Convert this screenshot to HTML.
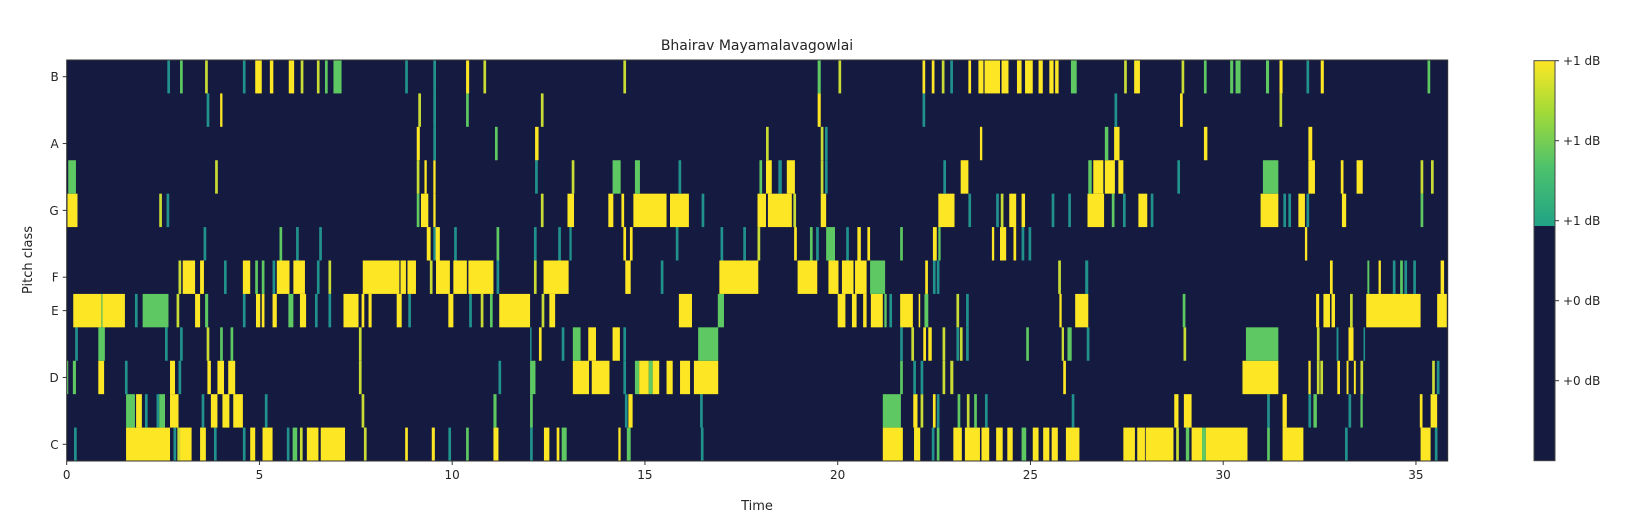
<!DOCTYPE html>
<html><head><meta charset="utf-8"><style>
body{margin:0;background:#fff;}
svg text{font-family:"DejaVu Sans","Liberation Sans",sans-serif;fill:#262626;}
</style></head><body>
<svg id="chart" width="1632" height="522" viewBox="0 0 1632 522" xmlns="http://www.w3.org/2000/svg">
<text x="757" y="50" font-size="14" text-anchor="middle">Bhairav Mayamalavagowlai</text>
<rect x="66.7" y="60" width="1381" height="401" fill="#141a40"/>
<g id="cells"></g>
<rect x="66.7" y="60" width="1381" height="401" fill="none" stroke="#333" stroke-width="1"/>
<g id="xaxis"></g>
<g id="yaxis"></g>
<text x="757" y="510" font-size="13" text-anchor="middle">Time</text>
<text x="0" y="0" font-size="13" text-anchor="middle" transform="translate(32,260) rotate(-90)">Pitch class</text>
<defs><linearGradient id="cbg" x1="0" y1="1" x2="0" y2="0">
<stop offset="0" stop-color="#21a386"/><stop offset="0.35" stop-color="#4cc26c"/><stop offset="0.7" stop-color="#a5db36"/><stop offset="1" stop-color="#fde725"/></linearGradient></defs>
<g>
<rect x="1534" y="226" width="21" height="234.7" fill="#141a40"/>
<rect x="1534" y="60.7" width="21" height="165.3" fill="url(#cbg)"/>
<rect x="1534" y="60.7" width="21" height="400" fill="none" stroke="#444" stroke-width="1"/>
<g id="cbticks"></g>
</g>
</svg>
<script>
const Y = 1, O = 0.85, G = 0.55, T = 0.2;
const pitchLabels = ["C","C#","D","D#","E","F","F#","G","G#","A","A#","B"];
const xTicks = [0,5,10,15,20,25,30,35];
const cbLabels = ["+1 dB","+1 dB","+1 dB","+0 dB","+0 dB"];
const cbLevels = [1.0, 0.8, 0.6, 0.4, 0.2];
const chromaC = [[0.19,T],[1.54,2.68,Y],[2.77,T],[2.87,O],[2.94,3.24,Y],[3.46,3.61,Y],[3.82,T],[4.57,T],[4.76,4.89,Y],[5.08,5.34,Y],[5.71,T],[5.86,5.98,G],[6.05,O],[6.23,6.53,Y],[6.59,7.22,Y],[7.71,O],[8.78,Y],[9.47,9.55,Y],[9.90,T],[10.36,G],[11.07,11.20,Y],[12.02,T],[12.38,12.52,Y],[12.71,12.78,Y],[12.84,12.97,G],[14.31,14.37,Y],[14.53,14.63,G],[16.45,T],[21.17,21.69,Y],[21.98,22.14,Y],[22.44,T],[22.57,G],[23.00,23.22,Y],[23.30,23.69,Y],[23.73,23.93,Y],[24.11,24.28,Y],[24.40,24.54,Y],[24.77,24.89,G],[25.06,25.21,Y],[25.33,25.49,Y],[25.55,25.71,Y],[25.92,26.27,Y],[27.41,27.71,Y],[27.77,27.97,Y],[27.99,28.71,Y],[28.78,O],[29.03,29.12,G],[29.18,29.45,Y],[29.45,29.55,G],[29.55,30.63,Y],[31.14,31.21,G],[31.54,32.08,Y],[33.16,T],[35.12,35.38,Y],[35.49,T]];
const chromaCs = [[1.54,1.77,G],[1.80,1.95,Y],[2.03,T],[2.33,T],[2.40,2.55,G],[2.68,2.90,Y],[3.50,T],[3.74,3.91,Y],[4.04,4.22,Y],[4.32,4.57,Y],[5.14,T],[7.65,O],[11.07,11.15,G],[12.02,12.09,G],[14.48,T],[14.57,14.68,Y],[16.43,T],[21.17,21.64,G],[21.96,22.07,Y],[22.15,O],[22.47,Y],[22.57,22.64,T],[23.11,G],[23.35,O],[23.54,G],[23.82,T],[26.07,T],[28.73,28.84,Y],[28.98,29.18,Y],[31.14,T],[31.54,31.65,Y],[32.21,T],[32.34,32.43,G],[33.25,T],[33.56,33.62,G],[35.10,35.17,Y],[35.38,35.55,Y]];
const chromaD = [[0.0,0.04,G],[0.16,0.24,G],[0.82,0.97,Y],[1.51,T],[2.68,2.81,Y],[2.90,T],[3.65,3.74,Y],[3.91,4.08,Y],[4.19,4.37,Y],[7.58,O],[11.20,T],[12.02,12.16,G],[13.13,13.55,Y],[13.62,14.08,Y],[14.44,T],[14.74,14.85,G],[14.85,15.10,Y],[15.10,15.20,G],[15.20,15.37,Y],[15.56,15.72,Y],[15.91,16.17,Y],[16.27,16.90,Y],[21.62,21.69,G],[21.96,T],[22.15,T],[22.72,O],[22.92,23.00,O],[25.85,25.92,Y],[30.50,31.43,Y],[32.21,32.27,Y],[32.43,O],[32.52,O],[32.96,33.03,Y],[33.20,33.25,Y],[33.39,33.44,Y],[33.56,O],[35.42,O],[35.54,T]];
const chromaDs = [[0.22,T],[0.82,0.99,G],[2.55,T],[2.94,T],[3.63,O],[3.98,G],[4.25,G],[7.58,O],[12.02,12.06,T],[12.25,12.32,Y],[12.84,T],[13.13,13.33,G],[13.53,13.73,Y],[14.16,14.35,Y],[14.44,T],[16.38,16.90,G],[21.62,T],[21.91,O],[22.22,22.29,Y],[22.35,22.44,Y],[22.72,O],[23.08,T],[23.17,O],[23.33,T],[24.89,G],[25.81,25.87,O],[25.96,26.07,G],[26.46,T],[28.97,O],[30.59,31.43,G],[32.43,O],[32.94,32.99,T],[33.25,33.38,Y],[33.64,33.68,T]];
const chromaE = [[0.17,0.90,Y],[0.90,0.93,G],[0.93,1.51,Y],[1.77,T],[1.97,2.64,G],[2.85,O],[3.33,3.46,Y],[3.59,3.67,G],[4.57,T],[4.91,5.02,Y],[5.06,Y],[5.34,5.45,Y],[5.75,5.88,G],[6.05,6.21,Y],[6.44,T],[6.79,T],[7.18,7.57,Y],[7.65,Y],[7.83,7.91,Y],[8.56,8.69,Y],[8.86,T],[9.90,10.03,Y],[10.44,T],[10.74,O],[10.98,11.05,G],[11.22,12.02,Y],[12.32,O],[12.52,12.67,Y],[15.88,16.22,Y],[16.89,17.05,G],[20.0,20.2,Y],[20.37,20.49,Y],[20.66,20.75,Y],[20.86,21.17,Y],[21.21,21.27,G],[21.34,T],[21.62,21.95,Y],[22.10,22.14,Y],[22.25,22.35,G],[23.08,O],[23.33,T],[25.75,25.81,Y],[26.16,26.50,Y],[28.95,G],[32.41,32.49,Y],[32.60,32.77,Y],[32.81,32.90,Y],[33.29,O],[33.71,35.12,Y],[35.55,35.80,Y]];
const chromaF = [[2.90,O],[3.01,3.33,Y],[3.46,3.56,Y],[4.08,T],[4.57,4.76,Y],[4.89,G],[5.06,G],[5.34,T],[5.45,5.78,Y],[5.88,6.18,Y],[6.49,T],[6.79,O],[7.68,8.63,Y],[8.66,8.80,Y],[8.84,9.06,Y],[9.42,O],[9.58,9.94,Y],[10.03,10.38,Y],[10.42,11.07,Y],[11.15,T],[12.12,O],[12.37,13.02,Y],[14.49,14.63,Y],[15.41,T],[16.93,17.94,Y],[18.96,19.47,Y],[19.76,20.02,Y],[20.11,20.41,Y],[20.45,20.75,Y],[20.84,21.23,G],[22.27,Y],[22.47,T],[22.57,T],[25.72,O],[26.42,26.50,T],[32.77,32.84,Y],[33.74,33.79,G],[34.03,34.09,Y],[34.40,T],[34.59,G],[34.70,T],[34.93,T],[35.64,35.73,Y]];
const chromaFs = [[3.55,T],[5.52,G],[5.95,T],[6.55,T],[9.34,9.44,Y],[9.51,T],[9.57,9.68,Y],[10.05,T],[11.15,G],[12.12,T],[12.75,T],[13.04,13.10,T],[14.44,14.51,Y],[14.61,14.68,Y],[15.80,T],[16.96,T],[17.55,T],[17.92,O],[18.87,18.94,Y],[19.28,19.35,G],[19.44,T],[19.70,19.93,G],[20.22,T],[20.51,20.60,Y],[20.77,20.84,Y],[21.62,G],[22.47,22.57,Y],[22.61,22.67,G],[24.00,24.06,Y],[24.21,24.37,Y],[24.56,24.63,Y],[24.77,T],[24.95,T],[32.12,32.18,Y]];
const chromaG = [[0.02,0.28,Y],[2.40,O],[2.59,T],[9.08,G],[9.19,9.38,Y],[9.51,9.57,Y],[12.30,O],[12.99,13.16,Y],[14.05,14.18,Y],[14.39,14.46,Y],[14.70,15.56,Y],[15.65,16.14,Y],[16.47,T],[17.92,18.14,Y],[18.19,18.81,Y],[18.85,O],[19.56,19.70,Y],[22.61,23.03,Y],[23.39,T],[24.11,T],[24.23,O],[24.45,24.63,Y],[24.77,24.86,Y],[25.55,T],[25.98,T],[26.48,26.91,Y],[27.11,G],[27.40,T],[27.80,28.03,Y],[28.12,T],[30.97,31.43,Y],[31.56,T],[31.69,T],[31.95,32.12,Y],[32.16,T],[33.08,33.19,Y],[35.12,G]];
const chromaGs = [[0.04,0.24,G],[3.85,O],[9.08,O],[9.28,9.34,Y],[9.51,9.57,Y],[12.15,T],[13.10,O],[14.16,14.37,G],[14.74,14.87,G],[15.87,T],[17.97,G],[18.14,18.29,Y],[18.46,18.55,T],[18.68,18.89,Y],[19.56,O],[19.67,T],[22.74,T],[23.19,23.39,Y],[26.50,26.59,G],[26.63,26.89,Y],[26.93,27.19,Y],[27.28,27.41,Y],[28.81,T],[31.03,31.43,G],[32.21,32.38,Y],[33.05,33.12,Y],[33.46,33.62,Y],[35.12,O],[35.39,O]];
const chromaA = [[9.08,9.16,Y],[9.51,T],[11.11,G],[12.15,12.24,Y],[18.14,O],[19.56,O],[19.67,T],[23.69,23.75,Y],[26.93,27.02,G],[27.17,27.31,Y],[29.50,29.59,Y],[32.21,32.31,Y]];
const chromaAs = [[3.63,T],[3.98,4.04,Y],[9.12,O],[9.51,T],[10.36,G],[12.30,O],[19.48,19.56,Y],[22.20,T],[27.18,T],[28.88,28.95,Y],[31.46,O]];
const chromaB = [[2.61,T],[2.94,G],[3.59,O],[4.57,T],[4.89,5.06,Y],[5.27,5.36,Y],[5.76,5.90,Y],[6.07,O],[6.49,O],[6.70,G],[6.92,7.13,G],[8.78,T],[9.51,T],[10.36,10.44,Y],[10.81,O],[14.44,O],[19.48,19.56,G],[20.02,O],[22.20,22.27,Y],[22.44,Y],[22.70,O],[22.92,T],[23.39,Y],[23.65,23.78,Y],[23.81,24.21,Y],[24.25,24.43,Y],[24.65,24.77,Y],[24.86,25.06,Y],[25.21,25.32,Y],[25.49,25.60,Y],[25.64,25.73,Y],[26.05,26.20,G],[27.43,O],[27.69,27.84,Y],[28.92,O],[29.50,29.57,G],[30.18,30.26,G],[30.32,30.45,G],[31.11,31.19,G],[31.46,31.54,Y],[32.16,T],[32.53,32.61,Y],[35.30,G]];
const chromaRows = [chromaC, chromaCs, chromaD, chromaDs, chromaE, chromaF, chromaFs, chromaG, chromaGs, chromaA, chromaAs, chromaB];

const NS = "http://www.w3.org/2000/svg";
const X0 = 66.7, PXS = 38.55, YTOP = 60, YBOT = 461, RH = (YBOT - YTOP) / 12, FRAME = 0.07, TMAX = 35.82;
function xScale(t){ return X0 + t * PXS; }
function rowTop(i){ return YBOT - (i + 1) * RH; }
function color(v){
  if (v >= 0.95) return "#fde725";
  if (v >= 0.8) return "#c9dc34";
  if (v >= 0.5) return "#5ec962";
  return "#21918c";
}
function mk(tag, attrs){ const e = document.createElementNS(NS, tag); for (const k in attrs) e.setAttribute(k, attrs[k]); return e; }

const cells = document.getElementById("cells");
chromaRows.forEach((row, i) => {
  row.forEach(seg => {
    let t0, t1, v;
    if (seg.length === 2) { t0 = seg[0]; t1 = seg[0] + FRAME; v = seg[1]; }
    else { t0 = seg[0]; t1 = seg[1]; v = seg[2]; }
    t1 = Math.min(t1, TMAX);
    const r = mk("rect", {x: xScale(t0), y: rowTop(i), width: Math.max(1.5, xScale(t1) - xScale(t0)), height: RH, fill: color(v)});
    
    
    cells.appendChild(r);
  });
});

const xa = document.getElementById("xaxis");
xTicks.forEach(t => {
  const x = xScale(t);
  const l = mk("line", {x1: x, x2: x, y1: YBOT, y2: YBOT + 4, stroke: "#333"});
  
  
  xa.appendChild(l);
  const tx = mk("text", {x: x, y: YBOT + 18, "font-size": 12, "text-anchor": "middle"});
  
  
  tx.textContent = t;
  xa.appendChild(tx);
});
const ya = document.getElementById("yaxis");
pitchLabels.forEach((p, i) => {
  if (p.indexOf("#") >= 0) return;
  const y = rowTop(i) + RH / 2;
  const l = mk("line", {x1: X0 - 4, x2: X0, y1: y, y2: y, stroke: "#333"});
  
  
  ya.appendChild(l);
  const tx = mk("text", {x: X0 - 8, y: y + 4.5, "font-size": 12, "text-anchor": "end"});
  
  
  tx.textContent = p;
  ya.appendChild(tx);
});
const cb = document.getElementById("cbticks");
cbLabels.forEach((lab, k) => {
  const y = 460.7 - cbLevels[k] * 400;
  const l = mk("line", {x1: 1555, x2: 1559, y1: y, y2: y, stroke: "#333"});
  
  
  cb.appendChild(l);
  const tx = mk("text", {x: 1563, y: y + 4.5, "font-size": 12});
  
  
  tx.textContent = lab;
  cb.appendChild(tx);
});
</script>
</body></html>
